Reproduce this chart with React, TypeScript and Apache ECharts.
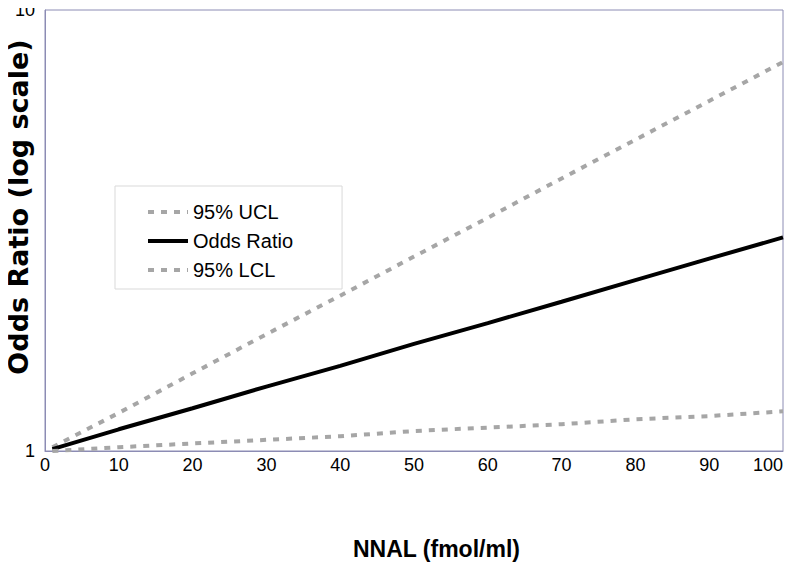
import React, { useEffect, useRef } from "react";
import * as echarts from "echarts";

const xValues = [1, 10, 20, 30, 40, 50, 60, 70, 80, 90, 100];
const oddsRatio = [1.01, 1.12, 1.25, 1.4, 1.56, 1.75, 1.95, 2.18, 2.44, 2.73, 3.05];
const ucl = [1.02, 1.22, 1.5, 1.84, 2.25, 2.76, 3.38, 4.15, 5.08, 6.22, 7.62];
const lcl = [1.0, 1.02, 1.04, 1.06, 1.08, 1.11, 1.13, 1.15, 1.18, 1.2, 1.23];
const seriesNames = ["95% UCL", "Odds Ratio", "95% LCL"];

const pair = (ys: number[]) => xValues.map((x, i) => [x, ys[i]]);

export default function App() {
  const ref = useRef<HTMLDivElement>(null);
  useEffect(() => {
    const chart = echarts.init(ref.current!, undefined, { renderer: "svg" });
    const gray = "#a6a6a6";
    const tickFont = "'Liberation Sans', Arial, sans-serif";
    chart.setOption({
      animation: false,
      backgroundColor: "#ffffff",
      grid: {
        left: 45,
        right: 17,
        top: 10,
        bottom: 120,
        show: true,
        borderColor: "#8c8cb4",
        borderWidth: 1,
        backgroundColor: "transparent",
      },
      legend: {
        orient: "vertical",
        left: 115,
        top: 186,
        data: seriesNames,
        itemWidth: 40,
        itemHeight: 10,
        itemGap: 9,
        padding: [16, 49, 9, 33],
        borderColor: "#d9d9d9",
        borderWidth: 1,
        icon: "none",
        textStyle: { fontSize: 20, color: "#000", fontFamily: tickFont, lineHeight: 20 },
      },
      xAxis: {
        type: "value",
        min: 0,
        max: 100,
        interval: 10,
        axisLine: { show: true, lineStyle: { color: "#8c8cb4" } },
        axisTick: { show: false },
        splitLine: { show: false },
        axisLabel: {
          fontSize: 18,
          color: "#000",
          fontFamily: tickFont,
          margin: 5,
          alignMaxLabel: "right",
        },
      },
      yAxis: {
        type: "log",
        logBase: 10,
        min: 1,
        max: 10,
        axisLine: { show: true, lineStyle: { color: "#8c8cb4" } },
        axisTick: { show: false },
        splitLine: { show: false },
        axisLabel: { fontSize: 18, color: "#000", fontFamily: tickFont, margin: 10 },
      },
      graphic: [
        {
          type: "text",
          left: 353,
          top: 537,
          style: {
            text: "NNAL (fmol/ml)",
            font: "bold 23px 'Liberation Sans', Arial, sans-serif",
            fill: "#000",
          },
        },
        {
          type: "text",
          x: 18,
          y: 207,
          rotation: Math.PI / 2,
          style: {
            text: "Odds Ratio (log scale)",
            font: "bold 27px 'DejaVu Sans', sans-serif",
            fill: "#000",
            align: "center",
            verticalAlign: "middle",
          },
        },
        {
          type: "line",
          shape: { x1: 148, y1: 212, x2: 188, y2: 212 },
          style: { stroke: gray, lineWidth: 4, lineDash: [6, 7] },
        },
        {
          type: "line",
          shape: { x1: 148, y1: 241, x2: 188, y2: 241 },
          style: { stroke: "#000", lineWidth: 4 },
        },
        {
          type: "line",
          shape: { x1: 148, y1: 270, x2: 188, y2: 270 },
          style: { stroke: gray, lineWidth: 4, lineDash: [6, 7] },
        },
      ],
      series: [
        {
          name: seriesNames[0],
          type: "line",
          data: pair(ucl),
          symbol: "none",
          color: gray,
          lineStyle: { color: gray, width: 4, type: [6, 7] },
        },
        {
          name: seriesNames[1],
          type: "line",
          data: pair(oddsRatio),
          symbol: "none",
          color: "#000",
          lineStyle: { color: "#000", width: 4 },
        },
        {
          name: seriesNames[2],
          type: "line",
          data: pair(lcl),
          symbol: "none",
          color: gray,
          lineStyle: { color: gray, width: 4, type: [6, 7] },
        },
      ],
    });
    return () => chart.dispose();
  }, []);
  return <div ref={ref} style={{ width: 800, height: 571, marginLeft: -8, marginTop: -8 }} />;
}
